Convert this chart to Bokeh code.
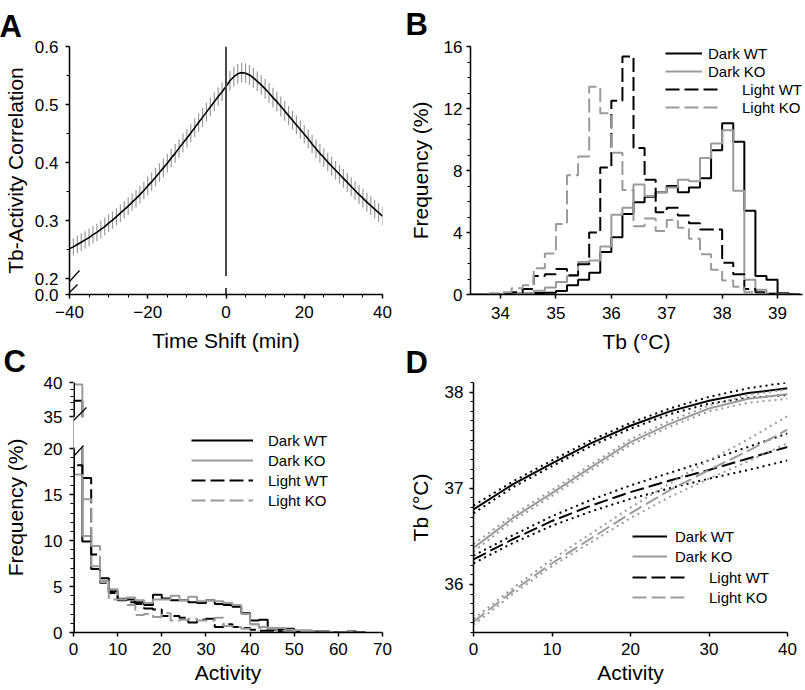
import numpy as np
from bokeh.plotting import figure
from bokeh.layouts import column, row
from bokeh.models import (FixedTicker, SingleIntervalTicker, Legend, LegendItem,
                          Arrow, BoxAnnotation, Range1d)
from bokeh.embed import file_html
from bokeh.resources import INLINE

FONT = "Liberation Sans"
INK = "#000000"
GRAY = "#9b9b9b"
DASH = "14 5"
DOT = "2 4"

# ---------------- Panel A : Tb-activity cross-correlation ----------------
shift_min = list(range(-40, 41))
corr_mean = [0.252, 0.255, 0.259, 0.263, 0.267, 0.271, 0.276, 0.280, 0.285, 0.290,
             0.296, 0.301, 0.307, 0.313, 0.319, 0.325, 0.332, 0.338, 0.345, 0.352,
             0.360, 0.367, 0.375, 0.383, 0.391, 0.399, 0.408, 0.416, 0.425, 0.434,
             0.442, 0.451, 0.460, 0.469, 0.478, 0.487, 0.496, 0.505, 0.514, 0.522,
             0.531, 0.541, 0.548, 0.553, 0.555, 0.554, 0.551, 0.546, 0.540, 0.534,
             0.527, 0.520, 0.512, 0.505, 0.497, 0.489, 0.481, 0.473, 0.465, 0.457,
             0.449, 0.441, 0.432, 0.424, 0.416, 0.409, 0.401, 0.394, 0.387, 0.380,
             0.373, 0.366, 0.359, 0.352, 0.345, 0.339, 0.332, 0.326, 0.320, 0.314,
             0.308]
corr_sem = [0.015, 0.015, 0.015, 0.015, 0.015, 0.015, 0.015, 0.015, 0.015, 0.015,
            0.015, 0.015, 0.015, 0.015, 0.015, 0.015, 0.015, 0.015, 0.015, 0.015,
            0.016, 0.016, 0.016, 0.016, 0.016, 0.016, 0.016, 0.016, 0.016, 0.016,
            0.016, 0.016, 0.016, 0.016, 0.016, 0.016, 0.016, 0.016, 0.016, 0.016,
            0.017, 0.017, 0.017, 0.017, 0.017, 0.017, 0.017, 0.017, 0.017, 0.017,
            0.017, 0.017, 0.017, 0.017, 0.017, 0.017, 0.016, 0.016, 0.016, 0.016,
            0.016, 0.016, 0.016, 0.016, 0.016, 0.016, 0.016, 0.016, 0.016, 0.016,
            0.016, 0.016, 0.016, 0.016, 0.016, 0.016, 0.016, 0.016, 0.016, 0.016,
            0.016]

# ---------------- Panel B : Tb frequency histograms (0.2 degC bins) -------
tb_bin_left = [33.4, 33.6, 33.8, 34.0, 34.2, 34.4, 34.6, 34.8, 35.0, 35.2,
               35.4, 35.6, 35.8, 36.0, 36.2, 36.4, 36.6, 36.8, 37.0, 37.2,
               37.4, 37.6, 37.8, 38.0, 38.2, 38.4, 38.6, 38.8, 39.0, 39.2]
tb_bin_width = 0.2
tb_dark_wt = [0.0, 0.0, 0.0, 0.02, 0.05, 0.08, 0.1, 0.12, 0.22, 0.6,
              0.95, 1.4, 2.75, 3.7, 5.2, 5.95, 6.3, 6.6, 7.0, 6.6,
              6.9, 7.5, 9.3, 11.05, 9.85, 5.4, 1.2, 0.95, 0.08, 0.02]
tb_dark_ko = [0.0, 0.0, 0.0, 0.05, 0.08, 0.1, 0.25, 0.45, 0.8, 1.2,
              2.1, 2.2, 3.1, 5.15, 5.6, 7.1, 6.35, 6.6, 6.9, 7.4,
              7.3, 8.8, 9.75, 10.6, 6.7, 0.95, 0.3, 0.05, 0.0, 0.0]
tb_light_wt = [0.0, 0.0, 0.02, 0.05, 0.15, 0.35, 1.2, 1.3, 1.65, 1.25,
               1.95, 4.0, 8.2, 12.5, 15.35, 9.45, 7.4, 5.3, 5.6, 5.1,
               4.6, 4.2, 4.2, 2.05, 1.3, 0.35, 0.15, 0.05, 0.0, 0.0]
tb_light_ko = [0.02, 0.03, 0.08, 0.15, 0.4, 0.6, 1.7, 2.65, 4.55, 7.7,
               8.9, 13.4, 11.7, 9.15, 6.75, 4.4, 4.9, 4.1, 4.8, 4.3,
               3.6, 2.6, 1.6, 0.9, 0.5, 0.15, 0.05, 0.0, 0.0, 0.0]

# ---------------- Panel C : activity frequency histograms (bins of 2) -----
act_bin_left = [0, 2, 4, 6, 8, 10, 12, 14, 16, 18, 20, 22, 24, 26, 28, 30, 32,
                34, 36, 38, 40, 42, 44, 46, 48, 50, 52, 54, 56, 58, 60, 62, 64]
act_bin_width = 2
act_dark_wt = [37.3, 9.9, 6.9, 5.9, 4.5, 3.5, 3.6, 3.3, 3.0, 4.1, 3.7, 3.5, 3.5,
               3.3, 3.2, 3.5, 3.1, 3.0, 2.8, 2.1, 1.3, 1.4, 0.3, 0.3, 0.4, 0.2,
               0.2, 0.1, 0.1, 0.05, 0.05, 0.1, 0.05]
act_dark_ko = [39.7, 10.5, 7.2, 5.6, 4.7, 3.7, 3.8, 3.5, 3.2, 3.6, 3.6, 4.0, 3.5,
               3.9, 3.4, 3.5, 3.4, 3.2, 3.0, 2.0, 0.9, 0.6, 0.5, 0.5, 0.3, 0.2,
               0.2, 0.1, 0.05, 0.05, 0.05, 0.05, 0.0]
act_light_wt = [18.2, 16.8, 8.5, 5.4, 4.3, 3.6, 3.3, 3.1, 2.6, 2.5, 1.8, 1.8, 1.6,
                1.1, 1.4, 1.5, 0.6, 0.9, 0.6, 0.5, 0.3, 0.2, 0.2, 0.1, 0.1, 0.05,
                0.05, 0.0, 0.0, 0.0, 0.0, 0.0, 0.0]
act_light_ko = [17.2, 14.5, 9.4, 5.5, 3.6, 3.6, 3.0, 1.9, 2.0, 1.7, 2.1, 1.3, 1.4,
                1.5, 1.3, 1.3, 1.6, 0.7, 0.6, 0.4, 0.9, 0.5, 0.4, 0.2, 0.1, 0.05,
                0.05, 0.0, 0.0, 0.0, 0.0, 0.0, 0.0]

# ---------------- Panel D : Tb vs activity fits with 95% CI ---------------
act_fit = [0, 5, 10, 15, 20, 25, 30, 35, 40]
fit_dark_wt = [36.78, 37.04, 37.26, 37.47, 37.65, 37.80, 37.91, 37.99, 38.04]
lo_dark_wt = [36.74, 37.01, 37.23, 37.44, 37.62, 37.77, 37.88, 37.94, 37.97]
hi_dark_wt = [36.82, 37.07, 37.29, 37.50, 37.68, 37.83, 37.95, 38.04, 38.10]
fit_dark_ko = [36.38, 36.69, 36.95, 37.22, 37.48, 37.67, 37.83, 37.93, 37.98]
lo_dark_ko = [36.34, 36.66, 36.92, 37.19, 37.45, 37.64, 37.80, 37.89, 37.93]
hi_dark_ko = [36.42, 36.72, 36.98, 37.25, 37.51, 37.70, 37.86, 37.97, 38.03]
fit_light_wt = [36.26, 36.47, 36.66, 36.82, 36.96, 37.08, 37.19, 37.31, 37.43]
lo_light_wt = [36.22, 36.43, 36.61, 36.76, 36.89, 37.00, 37.10, 37.19, 37.29]
hi_light_wt = [36.30, 36.51, 36.71, 36.88, 37.03, 37.16, 37.29, 37.43, 37.57]
fit_light_ko = [35.61, 35.93, 36.22, 36.48, 36.74, 36.98, 37.19, 37.39, 37.61]
lo_light_ko = [35.58, 35.90, 36.19, 36.44, 36.69, 36.91, 37.10, 37.28, 37.47]
hi_light_ko = [35.64, 35.96, 36.26, 36.53, 36.80, 37.05, 37.29, 37.51, 37.75]

series_names = ["Dark WT", "Dark KO", "Light WT", "Light KO"]


# ---------------- helpers ----------------
def outline(lefts, width, values, fn=lambda v: v):
    edges = list(lefts) + [lefts[-1] + width]
    xs = [edges[0]] + edges
    ys = [0] + [fn(v) for v in values] + [0]
    return xs, ys


def make_fig(w, h, xr, yr, bl, br, bt, bb, letter, offset, standoff):
    p = figure(width=w, height=h, x_range=Range1d(*xr), y_range=Range1d(*yr),
               output_backend="svg", toolbar_location=None,
               min_border_left=bl, min_border_right=br,
               min_border_top=bt, min_border_bottom=bb)
    p.xgrid.visible = False
    p.ygrid.visible = False
    p.outline_line_color = None
    p.title.text = letter
    p.title.text_font = FONT
    p.title.text_font_size = "31px"
    p.title.text_font_style = "bold"
    p.title.text_color = INK
    p.title.align = "left"
    p.title.offset = offset
    p.title.standoff = standoff
    for ax in (p.xaxis[0], p.yaxis[0]):
        ax.axis_line_color = INK
        ax.axis_line_width = 1.5
        ax.major_tick_line_color = INK
        ax.minor_tick_line_color = INK
        ax.major_tick_line_width = 1.5
        ax.minor_tick_line_width = 1
        ax.major_tick_out = 4
        ax.major_tick_in = 0
        ax.minor_tick_out = 3
        ax.minor_tick_in = 0
        ax.major_label_text_font = FONT
        ax.major_label_text_font_size = "17px"
        ax.major_label_text_color = INK
        ax.axis_label_text_font = FONT
        ax.axis_label_text_font_size = "21px"
        ax.axis_label_text_font_style = "normal"
        ax.axis_label_text_color = INK
    return p


def rule(p, x0, y0, x1, y1, units="screen", w=1.5):
    p.add_layout(Arrow(start=None, end=None, x_start=x0, y_start=y0, x_end=x1, y_end=y1,
                       start_units=units, end_units=units, line_color=INK, line_width=w))


def add_legend(p, items, loc, gw, standoff, rowh=20):
    leg = Legend(items=items, location=loc, glyph_width=gw, glyph_height=rowh,
                 label_height=rowh, label_standoff=standoff, spacing=0, padding=0,
                 margin=0, background_fill_alpha=0, border_line_alpha=0,
                 label_text_font=FONT, label_text_font_size="15px",
                 label_text_color=INK)
    p.add_layout(leg)


styles = [(INK, None), (GRAY, None), (INK, DASH), (GRAY, DASH)]

# ---------------- Panel A ----------------
A_Y_BOT = 0.173
pA = make_fig(400, 360, (-40, 40), (A_Y_BOT, 0.6), 68, 18, 44, 65, "A", -70, 6)
pA.xaxis.ticker = SingleIntervalTicker(interval=20, num_minor_ticks=4)
pA.yaxis.ticker = FixedTicker(ticks=[A_Y_BOT, 0.2, 0.3, 0.4, 0.5, 0.6],
                              minor_ticks=[0.25, 0.35, 0.45, 0.55])
pA.yaxis.major_label_overrides = {A_Y_BOT: "0.0", 0.2: "0.2", 0.3: "0.3",
                                  0.4: "0.4", 0.5: "0.5", 0.6: "0.6"}
pA.xaxis.axis_label = "Time Shift (min)"
pA.yaxis.axis_label = "Tb-Activity Correlation"
pA.xaxis.major_label_standoff = 7
pA.xaxis.axis_label_standoff = 8
pA.yaxis.major_label_standoff = 7
pA.yaxis.axis_label_standoff = 5

lo = [m - s for m, s in zip(corr_mean, corr_sem)]
hi = [m + s for m, s in zip(corr_mean, corr_sem)]
pA.segment(x0=shift_min, y0=lo, x1=shift_min, y1=hi, line_color=GRAY, line_width=1.2)
pA.line(shift_min, corr_mean, line_color=INK, line_width=1.6)
zero_shift = 0
A_BREAK_HI, A_BREAK_LO = 0.205, 0.184
pA.segment(x0=[zero_shift, zero_shift], y0=[0.6, A_BREAK_LO],
           x1=[zero_shift, zero_shift], y1=[A_BREAK_HI, A_Y_BOT],
           line_color="#4a4a4a", line_width=2)
rule(pA, 0, 13, 10, 24, w=1.2)
rule(pA, 0, 2, 8, 10, w=1.2)

# ---------------- Panel B ----------------
pB = make_fig(404, 360, (33.458, 39.45), (0, 16), 70, 2, 44, 66, "B", -65, 9)
pB.xaxis.ticker = SingleIntervalTicker(interval=1, num_minor_ticks=0)
pB.yaxis.ticker = SingleIntervalTicker(interval=4, num_minor_ticks=4)
pB.xaxis.axis_label = "Tb (°C)"
pB.yaxis.axis_label = "Frequency (%)"
pB.xaxis.major_label_standoff = 8
pB.xaxis.axis_label_standoff = 8
pB.yaxis.major_label_standoff = 4
pB.yaxis.axis_label_standoff = 9

rB = []
for vals, (c, d) in zip([tb_dark_wt, tb_dark_ko, tb_light_wt, tb_light_ko], styles):
    xs, ys = outline(tb_bin_left, tb_bin_width, vals)
    kw = dict(mode="after", line_color=c, line_width=2)
    if d:
        kw["line_dash"] = d
    rB.append(pB.step(xs, ys, **kw))
add_legend(pB, [LegendItem(label=series_names[0], renderers=[rB[0]]),
                LegendItem(label=series_names[1], renderers=[rB[1]])], (195, 214), 37, 6, 18)
add_legend(pB, [LegendItem(label=series_names[2], renderers=[rB[2]]),
                LegendItem(label=series_names[3], renderers=[rB[3]])], (195, 178), 57, 20, 18)

# ---------------- Panel C ----------------
C_BREAK = 20.0
C_UP_FROM = 35.0
C_UP_BASE = 23.5
C_UP_SCALE = 0.74


def c_axis(v):
    return v if v <= C_BREAK else C_UP_BASE + (v - C_UP_FROM) * C_UP_SCALE


C_TOP = c_axis(40)
pC = make_fig(400, 354, (0, 70), (0, C_TOP), 68, 18, 47, 57, "C", -70, 8)
pC.border_fill_alpha = 0
pC.xaxis.ticker = SingleIntervalTicker(interval=10, num_minor_ticks=0)
c_major = [0, 5, 10, 15, 20, 35, 40]
c_minor = [v for v in list(range(1, 20)) + [36, 37, 38, 39] if v % 5]
pC.yaxis.ticker = FixedTicker(ticks=[c_axis(v) for v in c_major],
                              minor_ticks=[c_axis(v) for v in c_minor])
pC.yaxis.major_label_overrides = {c_axis(v): str(v) for v in c_major}
pC.xaxis.axis_label = "Activity"
pC.yaxis.axis_label = "Frequency (%)"
pC.xaxis.major_label_standoff = 6
pC.xaxis.axis_label_standoff = 3
pC.yaxis.major_label_standoff = 7
pC.yaxis.axis_label_standoff = 14
pC.yaxis.axis_line_color = None

rC = []
for vals, (c, d) in zip([act_dark_wt, act_dark_ko, act_light_wt, act_light_ko], styles):
    xs, ys = outline(act_bin_left, act_bin_width, vals, c_axis)
    kw = dict(mode="after", line_color=c, line_width=2)
    if d:
        kw["line_dash"] = d
    rC.append(pC.step(xs, ys, **kw))
pC.add_layout(BoxAnnotation(left=0, right=3, bottom=20.15, top=23.4, fill_color="white",
                            fill_alpha=1, line_alpha=0))
rule(pC, 0.75, 0, 0.75, 250 * C_BREAK / C_TOP)
rule(pC, 0.75, 250 * C_UP_BASE / C_TOP, 0.75, 250)
rule(pC, 0, 176, 10, 187, w=1.2)
rule(pC, 0, 212, 13, 225, w=1.2)
add_legend(pC, [LegendItem(label=n, renderers=[r]) for n, r in zip(series_names, rC)],
           (118, 122), 62, 15)

# ---------------- Panel D ----------------
pD = make_fig(404, 354, (0, 40), (35.5, 38.1), 73, 17, 47, 57, "D", -68, 6)
pD.border_fill_alpha = 0
pD.xaxis.ticker = SingleIntervalTicker(interval=10, num_minor_ticks=0)
d_minor = [round(35.5 + 0.1 * i, 1) for i in range(27)]
pD.yaxis.ticker = FixedTicker(ticks=[36, 37, 38],
                              minor_ticks=[v for v in d_minor if v not in (36.0, 37.0, 38.0)])
pD.xaxis.axis_label = "Activity"
pD.yaxis.axis_label = "Tb (°C)"
pD.xaxis.major_label_standoff = 6
pD.xaxis.axis_label_standoff = 3
pD.yaxis.major_label_standoff = 6
pD.yaxis.axis_label_standoff = 10

rD = []
for fit, lo_, hi_, (c, d) in zip([fit_dark_wt, fit_dark_ko, fit_light_wt, fit_light_ko],
                                 [lo_dark_wt, lo_dark_ko, lo_light_wt, lo_light_ko],
                                 [hi_dark_wt, hi_dark_ko, hi_light_wt, hi_light_ko], styles):
    pD.line(act_fit, lo_, line_color=c, line_width=2, line_dash=DOT)
    pD.line(act_fit, hi_, line_color=c, line_width=2, line_dash=DOT)
    kw = dict(line_color=c, line_width=2)
    if d:
        kw["line_dash"] = d
    rD.append(pD.line(act_fit, fit, **kw))
add_legend(pD, [LegendItem(label=series_names[0], renderers=[rD[0]]),
                LegendItem(label=series_names[1], renderers=[rD[1]])], (159, 66), 35, 8)
add_legend(pD, [LegendItem(label=series_names[2], renderers=[rD[2]]),
                LegendItem(label=series_names[3], renderers=[rD[3]])], (159, 25), 55, 22)

layout = column(row(pA, pB), row(pC, pD, margin=(-25, 0, 0, 0)))
open("out.html", "w").write(file_html(layout, INLINE))
